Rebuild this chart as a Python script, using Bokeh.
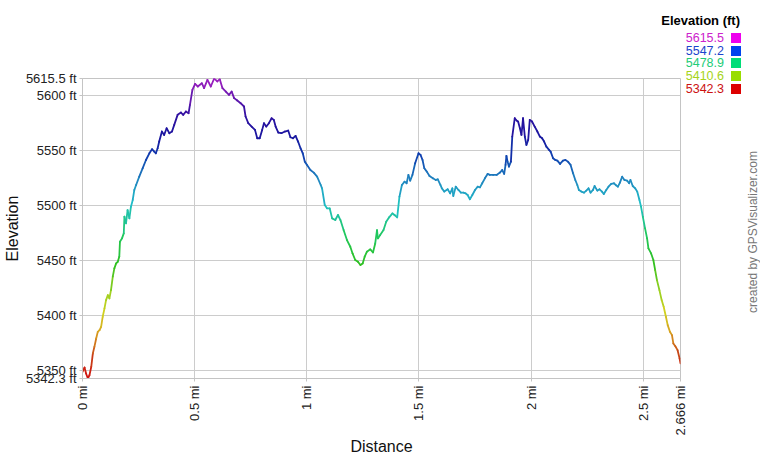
import math
from bokeh.plotting import figure
from bokeh.layouts import row
from bokeh.models import (ColumnDataSource, FixedTicker, CustomJSTickFormatter, Range1d, Div)
from bokeh.transform import linear_cmap
from bokeh.embed import file_html
from bokeh.resources import INLINE

# ---------------- data (distance in mi, elevation in ft) ----------------
dist_a = [0.000, 0.009, 0.016, 0.024, 0.031, 0.039, 0.046, 0.053, 0.061, 0.068,
          0.076, 0.083, 0.090, 0.098, 0.105, 0.113, 0.120, 0.127, 0.135, 0.142,
          0.150, 0.157, 0.164, 0.167, 0.176, 0.184, 0.187, 0.194, 0.201, 0.209,
          0.216, 0.224, 0.231, 0.239, 0.253, 0.268, 0.283, 0.298, 0.310, 0.320,
          0.327, 0.335, 0.342, 0.354, 0.364, 0.375, 0.387, 0.399, 0.409, 0.424,
          0.439, 0.449, 0.461, 0.473, 0.479, 0.490, 0.502, 0.514]
elev_a = [5348.3, 5352.3, 5346.8, 5342.3, 5345.3, 5352.9, 5365.0, 5371.1, 5378.7, 5384.8,
          5386.3, 5389.4, 5398.5, 5406.1, 5413.7, 5418.2, 5415.2, 5422.8, 5435.0, 5442.6,
          5447.1, 5448.6, 5453.2, 5466.9, 5469.9, 5474.5, 5489.7, 5483.6, 5495.7, 5488.1,
          5498.8, 5504.9, 5514.0, 5518.5, 5526.1, 5533.7, 5541.3, 5547.4, 5551.1, 5548.9,
          5547.4, 5552.0, 5558.1, 5567.2, 5564.1, 5570.2, 5565.7, 5567.2, 5573.3, 5582.4,
          5584.5, 5582.4, 5585.4, 5583.9, 5591.5, 5605.2, 5610.6, 5608.2]

dist_b = [0.532, 0.542, 0.557, 0.572, 0.587, 0.601, 0.612, 0.624, 0.639, 0.653,
          0.665, 0.676, 0.690, 0.705, 0.720, 0.727, 0.739, 0.754, 0.769, 0.779,
          0.790, 0.801, 0.809, 0.819, 0.831, 0.843, 0.853, 0.861, 0.873, 0.887,
          0.902, 0.917, 0.927, 0.938, 0.950, 0.961, 0.972, 0.982, 0.991, 1.001,
          1.016, 1.031, 1.046, 1.062]
elev_b = [5611.2, 5606.7, 5614.3, 5608.2, 5615.5, 5612.8, 5614.9, 5606.7, 5603.6, 5600.6,
          5603.6, 5597.6, 5595.4, 5593.0, 5590.0, 5580.9, 5574.8, 5571.7, 5568.7, 5561.1,
          5561.1, 5568.7, 5574.8, 5571.7, 5574.8, 5579.3, 5577.8, 5571.7, 5566.3, 5565.7,
          5567.2, 5568.1, 5562.0, 5561.1, 5563.2, 5558.1, 5552.0, 5547.4, 5539.8, 5536.8,
          5532.2, 5529.8, 5526.1, 5518.5]

dist_c = [1.068, 1.080, 1.090, 1.102, 1.113, 1.127, 1.139, 1.150, 1.164, 1.179,
          1.194, 1.204, 1.216, 1.228, 1.239, 1.249, 1.258, 1.268, 1.283, 1.295,
          1.305, 1.313, 1.317, 1.327, 1.342, 1.354, 1.367, 1.382, 1.391, 1.403,
          1.413, 1.424, 1.436, 1.445, 1.453, 1.461, 1.471, 1.483, 1.498, 1.507,
          1.516, 1.524, 1.535, 1.547, 1.562, 1.575, 1.584, 1.596]
elev_c = [5515.5, 5500.3, 5497.3, 5497.3, 5488.1, 5486.6, 5491.2, 5486.6, 5477.5, 5468.4,
          5462.3, 5456.2, 5450.2, 5448.6, 5445.6, 5447.1, 5453.2, 5457.8, 5459.9, 5457.1,
          5465.3, 5477.5, 5469.9, 5472.9, 5477.5, 5485.1, 5489.1, 5492.7, 5491.2, 5489.1,
          5507.9, 5518.5, 5521.6, 5520.1, 5527.7, 5522.5, 5527.7, 5538.3, 5547.4, 5545.9,
          5541.3, 5533.7, 5530.7, 5526.7, 5524.6, 5523.1, 5523.7, 5518.5]

dist_d = [1.602, 1.613, 1.628, 1.639, 1.649, 1.653, 1.664, 1.676, 1.687, 1.698,
          1.708, 1.717, 1.727, 1.738, 1.750, 1.762, 1.772, 1.782, 1.794, 1.806,
          1.816, 1.831, 1.846, 1.861, 1.871, 1.880, 1.886, 1.890, 1.895, 1.901,
          1.910, 1.916, 1.927, 1.935, 1.942, 1.950, 1.957, 1.964, 1.972, 1.979,
          1.987, 1.994, 2.004, 2.016, 2.028, 2.039, 2.049, 2.058, 2.068, 2.080,
          2.087, 2.098, 2.108, 2.117, 2.129]
elev_d = [5515.5, 5512.5, 5514.6, 5510.9, 5515.5, 5508.5, 5517.0, 5514.0, 5511.6, 5511.6,
          5510.9, 5509.4, 5505.5, 5509.4, 5514.0, 5517.0, 5516.4, 5520.1, 5524.6, 5528.6,
          5527.7, 5527.7, 5527.7, 5529.8, 5532.2, 5528.6, 5536.8, 5545.0, 5539.8, 5535.3,
          5539.8, 5562.6, 5579.3, 5577.2, 5576.3, 5570.2, 5564.1, 5579.3, 5562.6, 5555.0,
          5559.6, 5577.8, 5576.3, 5571.7, 5567.2, 5562.6, 5561.1, 5558.1, 5553.5, 5550.5,
          5548.9, 5542.9, 5541.3, 5540.7, 5537.7]

dist_e = [2.142, 2.153, 2.164, 2.176, 2.187, 2.197, 2.206, 2.213, 2.224, 2.236,
          2.246, 2.256, 2.265, 2.276, 2.283, 2.295, 2.305, 2.316, 2.324, 2.335,
          2.345, 2.357, 2.369, 2.379, 2.387, 2.396, 2.406, 2.416, 2.428, 2.437,
          2.443, 2.453, 2.464, 2.473, 2.483, 2.490, 2.498, 2.508, 2.517, 2.523,
          2.535, 2.545, 2.553, 2.561, 2.572, 2.582, 2.591, 2.601, 2.609, 2.619,
          2.628, 2.634, 2.643, 2.653, 2.662, 2.666]
elev_e = [5540.7, 5541.3, 5539.8, 5536.8, 5529.2, 5523.1, 5518.5, 5514.0, 5512.5, 5511.6,
          5513.4, 5515.5, 5511.6, 5514.0, 5517.6, 5513.4, 5514.6, 5512.5, 5510.3, 5514.0,
          5517.0, 5519.5, 5520.1, 5518.2, 5517.0, 5520.7, 5526.1, 5523.1, 5522.5, 5520.1,
          5523.1, 5517.6, 5515.5, 5512.5, 5504.9, 5498.8, 5489.7, 5479.0, 5469.9, 5460.8,
          5456.2, 5450.2, 5441.0, 5431.9, 5422.8, 5413.7, 5407.6, 5398.5, 5390.9, 5384.8,
          5381.8, 5374.2, 5371.7, 5368.1, 5360.5, 5356.0]

x_ticks = [0, 0.5, 1, 1.5, 2, 2.5, 2.666]
y_ticks = [5342.3, 5350, 5400, 5450, 5500, 5550, 5600, 5615.5]
elev_min, elev_max = 5342.3, 5615.5
dist_max = 2.666

legend_title = "Elevation (ft)"
legend_values = ["5615.5", "5547.2", "5478.9", "5410.6", "5342.3"]
legend_text_colors = ["#cc22cc", "#1a44cc", "#22cc77", "#a6d41a", "#cc1111"]
legend_swatch_colors = ["#ee00ee", "#0044ee", "#00dd77", "#99dd00", "#dd0000"]
credit = "created by GPSVisualizer.com"

# ---------------- colour scale for the profile line ----------------
stops = [(0.00, "#d01010"), (0.08, "#c84818"), (0.15, "#d8a020"), (0.22, "#d0d020"),
         (0.30, "#90d020"), (0.38, "#30c020"), (0.48, "#20c860"), (0.58, "#20c0c8"),
         (0.66, "#2088c0"), (0.74, "#1040b0"), (0.80, "#1818a0"), (0.88, "#3010a0"),
         (0.94, "#6818b0"), (1.00, "#a020c0")]


def _hex(c):
    return tuple(int(c[i:i + 2], 16) for i in (1, 3, 5))


palette = []
for i in range(256):
    t = i / 255
    for (t0, c0), (t1, c1) in zip(stops[:-1], stops[1:]):
        if t0 <= t <= t1:
            f = (t - t0) / (t1 - t0)
            a, b = _hex(c0), _hex(c1)
            palette.append("#%02x%02x%02x" % tuple(round(a[k] + (b[k] - a[k]) * f) for k in range(3)))
            break

dist = dist_a + dist_b + dist_c + dist_d + dist_e
elev = elev_a + elev_b + elev_c + elev_d + elev_e

src = ColumnDataSource(dict(
    x0=dist[:-1], x1=dist[1:], y0=elev[:-1], y1=elev[1:],
    em=[(a + b) / 2 for a, b in zip(elev[:-1], elev[1:])],
))

FONT = "Liberation Sans"
W, H = 760, 460

# ---------------- main chart ----------------
p = figure(width=W, height=H, output_backend="svg", toolbar_location=None,
           x_range=Range1d(0, dist_max), y_range=Range1d(elev_min, elev_max),
           min_border_left=81, min_border_right=80, min_border_top=78, min_border_bottom=82)
p.outline_line_color = "#c4c4c4"
p.background_fill_color = "white"
p.border_fill_color = "white"

p.segment(x0="x0", y0="y0", x1="x1", y1="y1", source=src, line_width=1.8,
          line_cap="round", line_color=linear_cmap("em", palette, elev_min, elev_max))

p.xaxis.ticker = FixedTicker(ticks=x_ticks, minor_ticks=[])
p.xaxis.formatter = CustomJSTickFormatter(code="return tick + ' mi'")
p.xaxis.major_label_orientation = math.pi / 2
p.xaxis.axis_label = "Distance"
p.yaxis.ticker = FixedTicker(ticks=y_ticks, minor_ticks=[])
p.yaxis.formatter = CustomJSTickFormatter(code="return tick + ' ft'")
p.yaxis.axis_label = "Elevation"

for ax in (p.xaxis, p.yaxis):
    ax.axis_line_color = "#c4c4c4"
    ax.major_tick_line_color = "#c4c4c4"
    ax.major_tick_in = 0
    ax.major_tick_out = 3
    ax.minor_tick_line_color = None
    ax.major_label_standoff = 3
    ax.major_label_text_font = FONT
    ax.major_label_text_font_size = "13px"
    ax.major_label_text_color = "#222222"
    ax.axis_label_text_font = FONT
    ax.axis_label_text_font_size = "16px"
    ax.axis_label_text_font_style = "normal"
    ax.axis_label_text_color = "#111111"
    ax.axis_label_standoff = 2
p.xaxis.major_label_standoff = 4
p.xaxis.axis_label_standoff = 0

p.grid.grid_line_color = "#cccccc"
p.grid.grid_line_width = 1

# ---------------- colour key and credit, laid over the chart's right margin ----------------
parts = [f"<div style=\"position:relative;width:{W}px;height:{H}px;"
         f"font-family:'{FONT}',Arial,sans-serif;pointer-events:none;\">"]
parts.append(f"<div style=\"position:absolute;right:{W - 740}px;top:8px;line-height:16px;"
             f"font-size:13px;font-weight:bold;color:#000;white-space:nowrap;\">{legend_title}</div>")
for i, (v, tc, sc) in enumerate(zip(legend_values, legend_text_colors, legend_swatch_colors)):
    yc = 33.2 + i * 12.6
    parts.append(f"<div style=\"position:absolute;right:{W - 724}px;top:{yc - 8:.1f}px;"
                 f"line-height:16px;font-size:12.5px;color:{tc};white-space:nowrap;\">{v}</div>")
    parts.append(f"<div style=\"position:absolute;left:731px;top:{yc - 5:.1f}px;width:10px;"
                 f"height:10px;background:{sc};\"></div>")
parts.append(f"<div style=\"position:absolute;left:753px;top:227px;line-height:14px;"
             f"font-size:12px;color:#777;white-space:nowrap;"
             f"transform:translate(-50%,-50%) rotate(-90deg);\">{credit}</div>")
parts.append("</div>")

key = Div(text="".join(parts), width=W, height=H, styles={"margin-left": f"-{W}px"})

layout = row(p, key)
open("out.html", "w").write(file_html(layout, INLINE))
